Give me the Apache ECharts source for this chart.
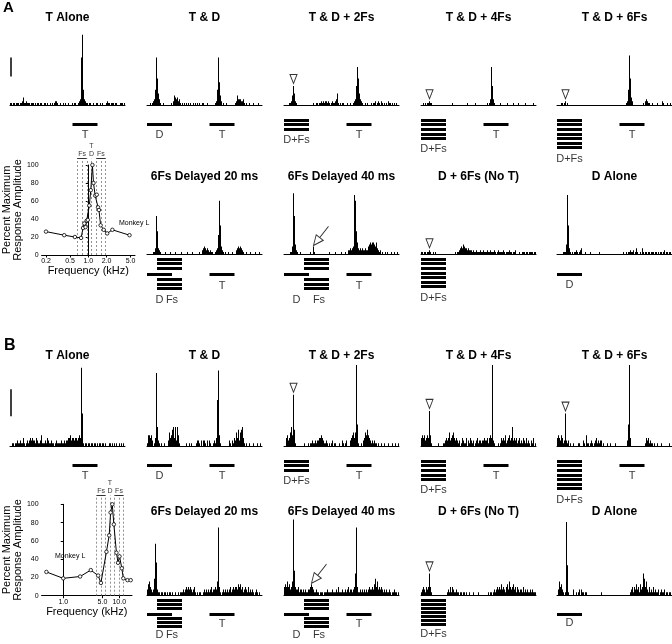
<!DOCTYPE html>
<html><head><meta charset="utf-8">
<script src="https://cdn.jsdelivr.net/npm/echarts@6/dist/echarts.min.js"></script>
<style>html,body{margin:0;padding:0;background:#fff}#c{width:672px;height:644px}</style>
</head><body><div id="c"></div>
<script>
// ---------------- DATA ----------------
// PSTH spike counts, 2-ms bins (115 bins = 230 ms), panel A (scale bar = 10 counts)
const hA_TAlone = [1,1,0,1,1,0,1,1,1,0, 1,1,2,4,1,1,2,1,1,1, 0,1,1,1,0,1,0,1,1,0, 1,1,0,0,1,1,0,1,0,0, 1,0,1,0,1,2,2,1,0,0, 1,0,0,1,0,1,0,0,1,0, 0,0,1,0,1,1,0,0,1,2, 3,25,37,8,3,2,1,1,0,1, 1,0,0,1,0,0,1,1,0,0, 1,0,1,0,0,0,1,2,1,1, 0,1,1,1,0,1,1,0,0,0, 1,1,1,0,1];
const hA_TD = [0,0,0,1,0,1,2,3,8,25, 14,6,3,1,0,0,1,0,0,0, 0,0,0,0,1,0,2,5,4,3, 4,2,3,1,0,1,0,1,0,1, 0,1,0,1,0,0,1,0,1,0, 1,0,1,0,0,1,1,0,0,0, 1,0,0,0,0,0,0,0,1,2, 8,25,12,5,2,0,1,0,0,1, 0,0,0,0,0,0,0,0,1,2, 5,3,3,3,2,2,3,1,0,1, 0,0,1,0,0,0,1,0,0,0, 0,1,0,0,0];
const hA_TD2Fs = [0,0,0,0,0,1,1,2,5,10, 6,2,1,0,0,0,0,0,0,0, 0,0,0,0,0,0,0,0,0,1, 0,0,1,1,0,1,1,2,1,2, 1,2,2,1,2,1,0,1,2,1, 1,2,3,6,1,0,1,0,1,1, 0,0,0,1,0,0,1,0,0,1, 2,3,10,20,14,6,3,2,1,0, 0,1,0,1,0,0,0,1,0,1, 1,2,0,1,2,1,0,2,1,0, 1,0,1,0,2,1,1,0,1,0, 1,0,1,0,0];
const hA_TD4Fs = [0,0,1,0,1,0,1,1,2,1, 1,0,0,0,0,0,0,0,0,0, 0,0,0,0,0,0,0,0,0,0, 0,1,0,0,0,0,0,0,0,0, 0,0,0,0,0,0,1,0,0,0, 0,0,0,0,1,0,0,0,0,0, 0,0,0,0,0,0,1,0,1,3, 20,10,3,1,0,0,0,0,0,1, 0,0,0,0,0,0,1,0,0,0, 0,0,1,0,0,0,0,1,0,0, 0,0,0,0,1,0,0,0,0,0, 0,0,1,0,0];
const hA_TD6Fs = [0,0,0,0,1,1,0,1,2,0, 1,0,0,0,0,0,0,0,0,0, 0,0,0,0,0,0,0,0,0,0, 0,0,0,0,0,0,0,0,0,0, 0,0,0,0,0,0,0,0,0,0, 0,0,0,0,0,0,0,0,0,0, 0,0,0,0,0,0,0,0,0,1, 2,8,26,14,4,2,0,0,0,0, 0,0,0,0,0,0,1,0,2,3, 2,1,1,0,0,1,0,0,0,0, 1,0,0,0,0,2,1,0,0,0, 1,0,0,1,0];
const hA_Del20 = [0,0,0,0,0,0,1,1,3,20, 12,3,2,1,0,0,0,0,1,0, 0,0,0,1,0,0,0,0,1,0, 0,0,0,0,1,0,0,0,0,0, 1,0,0,0,0,1,0,0,0,0, 0,0,1,0,0,2,3,4,3,2, 3,2,1,2,1,1,0,0,1,2, 3,10,28,15,4,2,1,0,1,0, 0,1,0,0,0,1,0,0,0,2, 3,4,3,4,3,2,1,0,0,1, 0,0,0,1,0,0,0,0,1,0, 0,0,1,0,0];
const hA_Del40 = [0,0,0,0,0,0,1,1,4,32, 20,5,2,1,0,0,1,0,0,0, 0,0,0,0,0,0,1,0,0,4, 1,0,0,0,0,0,0,0,0,0, 0,0,0,0,0,1,0,0,0,0, 0,1,0,0,0,0,0,1,0,0, 0,1,0,0,2,2,3,2,3,4, 31,28,12,6,3,2,3,2,3,2, 2,3,2,2,4,5,6,5,6,6, 5,4,6,3,2,1,2,0,1,0, 0,1,0,1,0,0,0,1,0,0, 1,0,0,1,0];
const hA_D6FsNoT = [1,1,0,1,1,0,1,1,2,1, 0,0,1,0,1,0,0,0,0,0, 0,0,0,0,0,0,0,0,0,0, 0,0,0,0,1,0,1,1,2,3, 4,3,5,4,3,3,2,3,2,2, 2,1,2,1,1,2,1,1,1,2, 1,1,2,1,1,1,2,1,1,2, 1,1,1,2,1,0,1,2,1,1, 1,1,2,1,0,1,1,1,2,1, 1,0,1,1,2,0,0,0,1,0, 0,1,1,1,0,1,1,0,1,1, 1,1,0,1,1];
const hA_DAlone = [0,0,0,0,0,0,1,1,1,5, 31,15,3,1,0,1,0,1,1,2, 1,0,1,2,3,0,0,0,1,0, 0,0,0,1,0,0,0,0,0,0, 0,0,1,0,0,0,0,0,0,0, 0,0,0,0,0,0,0,0,0,0, 0,0,0,0,0,0,1,0,0,1, 0,1,1,2,1,1,2,0,1,3, 1,0,0,1,0,3,1,0,1,1, 0,1,1,0,1,1,1,0,1,1, 0,1,0,1,1,0,1,2,0,1, 1,0,1,1,0];
// panel B (scale bar = 10 counts)
const hB_TAlone = [0,0,1,1,0,1,1,2,1,1, 2,1,1,3,1,0,1,2,1,2, 3,2,3,2,2,1,3,2,1,1, 2,4,1,1,1,2,1,3,2,1, 1,2,1,1,0,1,2,1,1,1, 1,2,1,1,2,1,2,2,3,3, 4,2,3,3,2,3,3,2,3,4, 3,29,12,1,0,1,1,0,1,1, 0,1,1,0,1,1,0,1,0,1, 1,0,1,1,0,1,0,0,0,1, 1,0,1,0,1,0,1,0,0,1, 0,1,0,1,0];
const hB_TD = [1,4,4,3,4,2,0,1,3,27, 7,2,1,0,1,0,0,1,0,0, 0,2,5,3,4,6,7,3,7,2, 7,4,1,0,0,0,0,0,0,1, 0,0,1,0,1,0,0,0,0,1, 2,2,1,0,2,0,2,2,1,0, 2,0,2,1,0,0,1,2,1,3, 17,28,4,1,0,0,0,0,0,0, 0,0,2,1,0,2,1,3,2,5, 3,6,2,5,6,7,3,1,0,1, 0,0,1,0,0,0,1,0,0,0, 1,0,0,1,0];
const hB_TD2Fs = [0,0,3,4,2,3,5,7,4,19, 6,1,0,0,0,0,0,0,0,0, 1,0,0,0,1,0,1,1,2,1, 1,2,1,2,2,3,3,4,3,2, 1,1,2,1,0,1,0,1,2,0, 1,1,0,0,0,1,0,0,2,1, 0,1,2,0,0,0,2,3,4,5, 3,5,30,8,1,0,0,1,0,2, 3,5,4,6,4,3,2,1,2,1, 2,1,1,0,1,0,0,1,0,0, 1,0,0,0,1,0,0,0,1,0, 0,1,0,0,1];
const hB_TD4Fs = [3,4,3,4,2,3,4,3,13,4, 1,0,0,0,0,0,0,1,0,0, 0,0,1,1,2,3,2,3,5,2, 3,4,5,3,2,3,2,1,2,0, 1,3,2,1,1,3,0,2,1,3, 2,1,2,0,1,2,3,1,2,2, 1,2,2,3,2,2,3,1,3,4, 3,30,2,1,0,0,0,1,0,1, 3,2,3,2,4,1,2,3,4,2, 3,7,2,3,2,3,1,2,3,1, 2,1,3,2,1,3,1,2,1,0, 2,1,3,0,1];
const hB_TD6Fs = [3,4,3,2,4,3,1,2,12,2, 1,2,0,1,0,0,1,0,0,0, 0,1,1,0,0,0,2,1,0,4, 1,1,0,1,2,1,0,1,2,3, 1,2,1,2,2,0,1,0,0,0, 1,0,0,1,0,0,0,0,1,0, 0,0,0,0,0,0,0,0,0,0, 2,8,30,3,0,0,0,0,0,0, 0,0,0,0,0,0,0,0,1,3, 2,3,1,2,1,1,0,1,0,0, 1,0,0,0,1,0,0,0,0,0, 0,0,1,0,0];
const hB_Del20 = [2,4,5,3,2,1,2,6,19,12, 2,1,1,0,1,1,0,1,1,0, 1,0,1,1,0,1,0,0,1,0, 0,1,0,1,1,1,2,1,2,3, 2,3,2,3,2,1,2,3,1,0, 1,0,1,1,0,0,1,2,1,2, 1,2,1,2,3,1,2,2,3,2, 5,25,3,1,0,1,2,1,2,1, 2,1,2,3,1,2,3,2,3,3, 2,4,3,4,2,3,1,2,3,2, 1,3,1,2,1,2,1,0,1,2, 1,0,1,0,0];
const hB_Del40 = [3,4,3,5,3,4,2,3,5,28, 9,3,2,2,3,1,2,2,1,2, 1,2,1,1,2,2,3,4,3,2, 1,1,2,1,1,0,1,1,1,0, 1,1,1,2,1,1,1,1,2,1, 1,1,2,1,3,1,1,1,2,1, 1,2,1,2,3,1,2,2,1,2, 3,8,25,3,1,1,2,1,2,1, 2,1,2,1,2,3,2,2,3,2, 4,6,3,5,2,3,2,3,2,1, 2,1,2,1,1,2,1,0,1,1, 2,1,1,0,1];
const hB_D6FsNoT = [1,2,3,2,1,3,2,3,8,3, 1,0,0,0,0,0,0,0,0,0, 0,0,0,0,0,0,1,2,1,3, 1,3,2,1,1,2,1,1,0,1, 1,0,1,1,0,1,0,0,1,0, 0,0,1,0,0,0,0,1,0,0, 0,0,0,0,0,0,0,1,0,1, 1,0,1,2,1,2,3,2,3,2, 4,2,3,2,1,3,4,2,5,3, 2,3,4,2,3,1,3,2,1,2, 2,1,3,1,2,1,2,1,1,2, 1,2,1,1,1];
const hB_DAlone = [0,2,5,3,4,2,1,0,1,27, 11,1,0,0,0,0,2,0,0,1, 0,1,2,0,2,1,1,0,1,1, 0,0,0,0,0,0,0,0,0,0, 0,0,0,0,1,0,0,0,0,0, 0,0,0,0,0,0,0,0,0,0, 0,0,0,0,0,0,0,0,0,0, 0,0,0,1,2,3,1,3,2,4, 2,3,1,4,2,3,8,6,3,5, 2,1,3,1,2,1,3,1,2,1, 1,2,0,1,2,1,1,2,0,1, 1,0,1,1,0];

// Panel titles
const titlesRow1 = ['T Alone', 'T & D', 'T & D + 2Fs', 'T & D + 4Fs', 'T & D + 6Fs'];
const titlesRow2 = ['6Fs Delayed 20 ms', '6Fs Delayed 40 ms', 'D + 6Fs (No T)', 'D Alone'];
// Stimulus timing (ms)
const stimD = [0, 50];
const stimT = [125, 175];
const stimDur = 50;
const fsDelays = [20, 40];
const fsCounts = [0, 2, 4, 6];
const scaleBarCounts = 10;

// Frequency tuning curves (kHz, % max response)
const tuneA_freq = [0.2, 0.4, 0.6, 0.76, 0.82, 0.86, 0.9, 0.94, 0.98, 1.04, 1.1, 1.17, 1.22, 1.3, 1.38, 1.45, 1.5, 1.6, 1.8, 2.05, 2.5, 4.8];
const tuneA_amp  = [26, 22, 20, 19, 30, 35, 31, 38, 39, 55, 72, 100, 80, 66, 67, 53, 50, 33, 28, 24, 28, 22];
const tuneA_lines = [0.71, 0.85, 1.01, 1.2, 1.43, 1.7, 2.02];
const tuneA_ticks = [0.2, 0.5, 1.0, 2.0, 5.0];
const tuneB_freq = [0.5, 1.0, 2.0, 3.1, 4.2, 4.7, 5.9, 6.6, 7.0, 7.5, 8.0, 8.9, 9.5, 10.1, 11.1, 11.8, 14.0, 16.0];
const tuneB_amp  = [26, 19, 21, 28, 22, 14, 48, 66, 91, 100, 78, 47, 36, 43, 30, 19, 17, 17];
const tuneB_lines = [4.28, 5.09, 6.05, 7.2, 8.56, 10.2, 12.1];
const tuneB_ticks = [1.0, 5.0, 10.0];

// ---------------- LAYOUT / BUILD ----------------
const FONT = '"Liberation Sans", Arial, Helvetica, sans-serif';
const NB = 115, BIN_MS = 2, W = 115, ROWPX = 4.6;
const colX = [10, 147, 284, 421, 557];
const rowsCfg = {
  A1: {base: 105, H: 80, unit: 1.9, stimTop: 120, titleY: 18},
  A2: {base: 254, H: 80, unit: 1.9, stimTop: 259, titleY: 177},
  B1: {base: 446, H: 92, unit: 2.7, stimTop: 461, titleY: 356},
  B2: {base: 595, H: 92, unit: 2.7, stimTop: 601, titleY: 512}
};
const bins = Array.from({length: NB}, (_, i) => i);

const P = (row, col, title, data, stim, extra) => Object.assign({row, col, title, data, stim}, extra || {});
const panels = [
  P('A1', 0, titlesRow1[0], hA_TAlone, {kind: 'sim', t: 1, d: 0, nFs: fsCounts[0]}, {scaleBar: 15}),
  P('A1', 1, titlesRow1[1], hA_TD,     {kind: 'sim', t: 1, d: 1, nFs: fsCounts[0]}),
  P('A1', 2, titlesRow1[2], hA_TD2Fs,  {kind: 'sim', t: 1, d: 1, nFs: fsCounts[1]}, {tri: true}),
  P('A1', 3, titlesRow1[3], hA_TD4Fs,  {kind: 'sim', t: 1, d: 1, nFs: fsCounts[2]}, {tri: true}),
  P('A1', 4, titlesRow1[4], hA_TD6Fs,  {kind: 'sim', t: 1, d: 1, nFs: fsCounts[3]}, {tri: true}),
  P('A2', 1, titlesRow2[0], hA_Del20,  {kind: 'delayed', delay: fsDelays[0]}),
  P('A2', 2, titlesRow2[1], hA_Del40,  {kind: 'delayed', delay: fsDelays[1]}, {arrow: true}),
  P('A2', 3, titlesRow2[2], hA_D6FsNoT,{kind: 'noT', nFs: fsCounts[3]}, {tri: true}),
  P('A2', 4, titlesRow2[3], hA_DAlone, {kind: 'dAlone'}),
  P('B1', 0, titlesRow1[0], hB_TAlone, {kind: 'sim', t: 1, d: 0, nFs: fsCounts[0]}, {scaleBar: 11}),
  P('B1', 1, titlesRow1[1], hB_TD,     {kind: 'sim', t: 1, d: 1, nFs: fsCounts[0]}),
  P('B1', 2, titlesRow1[2], hB_TD2Fs,  {kind: 'sim', t: 1, d: 1, nFs: fsCounts[1]}, {tri: true}),
  P('B1', 3, titlesRow1[3], hB_TD4Fs,  {kind: 'sim', t: 1, d: 1, nFs: fsCounts[2]}, {tri: true}),
  P('B1', 4, titlesRow1[4], hB_TD6Fs,  {kind: 'sim', t: 1, d: 1, nFs: fsCounts[3]}, {tri: true}),
  P('B2', 1, titlesRow2[0], hB_Del20,  {kind: 'delayed', delay: fsDelays[0]}),
  P('B2', 2, titlesRow2[1], hB_Del40,  {kind: 'delayed', delay: fsDelays[1]}, {arrow: true}),
  P('B2', 3, titlesRow2[2], hB_D6FsNoT,{kind: 'noT', nFs: fsCounts[3]}, {tri: true}),
  P('B2', 4, titlesRow2[3], hB_DAlone, {kind: 'dAlone'})
];

const grid = [], xAxis = [], yAxis = [], series = [], graphic = [];
const mid = r => (r[0] + r[1]) / 2;

function stimLayout(s) {
  const segs = [], labs = [];
  if (s.kind === 'sim') {
    if (s.d) {
      if (s.nFs > 0) {
        for (let r = 0; r <= s.nFs; r++) segs.push([stimD[0], stimD[1], r]);
        labs.push([mid(stimD), s.nFs + 2.4, 'D+Fs']);
      } else { segs.push([stimD[0], stimD[1], 1]); labs.push([mid(stimD), 3.3, 'D']); }
    }
    if (s.t) { segs.push([stimT[0], stimT[1], 1]); labs.push([mid(stimT), 3.3, 'T']); }
  } else if (s.kind === 'delayed') {
    const fs = [s.delay, s.delay + stimDur];
    [0, 1, 2, 4.4, 5.4, 6.4].forEach(r => segs.push([fs[0], fs[1], r]));
    segs.push([stimD[0], stimD[1], 3.4]);
    segs.push([stimT[0], stimT[1], 3.4]);
    labs.push([mid(stimD), 8.8, 'D']);
    labs.push([mid(fs) + 5, 8.8, 'Fs']);
    labs.push([mid(stimT), 5.9, 'T']);
  } else if (s.kind === 'noT') {
    for (let r = 0; r <= s.nFs; r++) segs.push([stimD[0], stimD[1], r]);
    labs.push([mid(stimD), s.nFs + 2.5, 'D+Fs']);
  } else if (s.kind === 'dAlone') {
    segs.push([stimD[0], stimD[1], 3.4]);
    labs.push([mid(stimD), 5.7, 'D']);
  }
  return {segs, labs};
}

const triPath = 'path://M0,0 L10,0 L5,12 Z';
const arrowPath = 'path://M0,19 L9.7,13.95 L2.7,8.35 Z M6.2,11.15 L15,0';

panels.forEach(p => {
  const rc = rowsCfg[p.row];
  const left = colX[p.col];
  const gi = grid.length;
  grid.push({left: left, top: rc.base - rc.H, width: W, height: rc.H});
  xAxis.push({type: 'category', gridIndex: gi, data: bins, boundaryGap: true,
    axisLine: {show: true, lineStyle: {color: '#000', width: 1}}, axisTick: {show: false},
    axisLabel: {show: false}, splitLine: {show: false}});
  yAxis.push({type: 'value', gridIndex: gi, min: 0, max: rc.H / rc.unit, show: false});
  series.push({type: 'bar', xAxisIndex: gi, yAxisIndex: gi, data: p.data, barCategoryGap: '0%', barGap: '0%',
    itemStyle: {color: '#000'}, silent: true});
  if (p.scaleBar !== undefined) {
    series.push({type: 'lines', coordinateSystem: 'cartesian2d', xAxisIndex: gi, yAxisIndex: gi,
      data: [{coords: [[0, p.scaleBar], [0, p.scaleBar + scaleBarCounts]]}],
      lineStyle: {color: '#000', width: 1.5, opacity: 1}, silent: true});
  }
  if (p.tri) {
    let bi = 0; for (let i = 0; i < 20; i++) if (p.data[i] > p.data[bi]) bi = i;
    series.push({type: 'scatter', xAxisIndex: gi, yAxisIndex: gi, data: [[bi, p.data[bi]]],
      symbol: triPath, symbolSize: [7, 9], symbolOffset: [0, -7],
      itemStyle: {color: '#fff', borderColor: '#000', borderWidth: 1}, silent: true, z: 5});
  }
  if (p.arrow) {
    let bi = 20; for (let i = 20; i < 40; i++) if (p.data[i] > p.data[bi]) bi = i;
    series.push({type: 'scatter', xAxisIndex: gi, yAxisIndex: gi, data: [[bi, p.data[bi]]],
      symbol: arrowPath, symbolSize: [15, 19], symbolOffset: [7.5, -10.5],
      itemStyle: {color: '#fff', borderColor: '#000', borderWidth: 1}, silent: true, z: 5});
  }
  const si = grid.length;
  grid.push({left: left, top: rc.stimTop - ROWPX, width: W, height: 12 * ROWPX});
  xAxis.push({type: 'value', gridIndex: si, min: 0, max: NB * BIN_MS, show: false});
  yAxis.push({type: 'value', gridIndex: si, min: -1, max: 11, inverse: true, show: false});
  const L = stimLayout(p.stim);
  series.push({type: 'lines', coordinateSystem: 'cartesian2d', xAxisIndex: si, yAxisIndex: si,
    data: L.segs.map(s => ({coords: [[s[0], s[2]], [s[1], s[2]]]})),
    lineStyle: {color: '#000', width: 3, opacity: 1}, silent: true});
  series.push({type: 'scatter', xAxisIndex: si, yAxisIndex: si, symbolSize: 1,
    itemStyle: {color: 'rgba(0,0,0,0)'},
    data: L.labs.map(l => ({value: [l[0], l[1]], name: l[2]})),
    label: {show: true, position: 'inside', formatter: '{b}', color: '#000', fontSize: 11, fontFamily: FONT},
    silent: true});
  graphic.push({type: 'text', x: left + W / 2, y: rc.titleY,
    style: {text: p.title, font: 'bold 12px ' + FONT, fill: '#000', textAlign: 'center', textVerticalAlign: 'middle'}});
});

// Tuning curves (x = log10 frequency on a linear value axis)
const lg = v => Math.log10(v);
function addTuning(cfg) {
  const gi = grid.length;
  grid.push({left: cfg.left, top: cfg.y100, width: cfg.width, height: cfg.y0 - cfg.y100});
  xAxis.push({type: 'value', gridIndex: gi, min: cfg.xmin, max: cfg.xmax,
    axisLine: {show: true, onZero: false, lineStyle: {color: '#000', width: 1}},
    axisTick: {show: true, length: 2.5, lineStyle: {color: '#000'}, customValues: cfg.ticks.map(lg)},
    axisLabel: {show: true, fontSize: 7, fontFamily: FONT, color: '#000', margin: 3,
      customValues: cfg.ticks.map(lg), formatter: v => Math.pow(10, v).toFixed(1)},
    splitLine: {show: false},
    name: 'Frequency (kHz)', nameLocation: 'middle', nameGap: 9,
    nameTextStyle: {fontSize: 11, fontFamily: FONT, color: '#000', verticalAlign: 'top'}});
  yAxis.push({type: 'value', gridIndex: gi, min: 0, max: 100, interval: 20,
    axisLine: {show: true, lineStyle: {color: '#000', width: 1}},
    axisTick: {show: true, length: 2.5, lineStyle: {color: '#000'}},
    axisLabel: {fontSize: 7, fontFamily: FONT, color: '#000', margin: 3},
    splitLine: {show: false},
    name: 'Percent Maximum\nResponse Amplitude', nameLocation: 'middle', nameRotate: 90, nameGap: 15,
    nameTextStyle: {fontSize: 11, lineHeight: 11, fontFamily: FONT, color: '#000'}});
  series.push({type: 'line', xAxisIndex: gi, yAxisIndex: gi,
    data: cfg.freq.map((f, i) => [lg(f), cfg.amp[i]]),
    symbol: 'circle', symbolSize: 3.5, showSymbol: true,
    lineStyle: {color: '#000', width: 1}, itemStyle: {color: '#fff', borderColor: '#000', borderWidth: 0.8},
    silent: true, z: 4});
  const oi = grid.length;
  const ppu = (cfg.y0 - cfg.y100) / 100;
  const oTop = cfg.y100 - 28;
  grid.push({left: cfg.left, top: oTop, width: cfg.width, height: cfg.y0 - oTop});
  xAxis.push({type: 'value', gridIndex: oi, min: cfg.xmin, max: cfg.xmax, show: false});
  yAxis.push({type: 'value', gridIndex: oi, min: 0, max: (cfg.y0 - oTop) / ppu, show: false});
  const topV = cfg.lineTop;
  series.push({type: 'lines', coordinateSystem: 'cartesian2d', xAxisIndex: oi, yAxisIndex: oi,
    data: cfg.lines.map(f => ({coords: [[lg(f), 0], [lg(f), topV]]})),
    lineStyle: {color: '#777', width: 0.8, type: [2, 2], opacity: 1}, silent: true, z: 1});
  const L = cfg.lines;
  series.push({type: 'lines', coordinateSystem: 'cartesian2d', xAxisIndex: oi, yAxisIndex: oi,
    data: [{coords: [[lg(L[0]), topV], [lg(L[2]), topV]]}, {coords: [[lg(L[4]), topV], [lg(L[6]), topV]]}],
    lineStyle: {color: '#000', width: 0.8, opacity: 1}, silent: true});
  const labY = topV + 4.5 / ppu;
  series.push({type: 'scatter', xAxisIndex: oi, yAxisIndex: oi, symbolSize: 1, itemStyle: {color: 'rgba(0,0,0,0)'},
    data: [
      {value: [lg(L[1]), labY], name: 'Fs'},
      {value: [lg(L[3]), labY], name: 'D'},
      {value: [lg(L[3]), labY + 8 / ppu], name: 'T'},
      {value: [lg(L[5]), labY], name: 'Fs'}
    ],
    label: {show: true, position: 'inside', formatter: '{b}', color: '#000', fontSize: 7, fontFamily: FONT},
    silent: true});
  graphic.push({type: 'text', x: cfg.monkey[0], y: cfg.monkey[1],
    style: {text: 'Monkey L', font: '7px ' + FONT, fill: '#000', textVerticalAlign: 'middle'}});
}
addTuning({left: 38, width: 97, y100: 165, y0: 255, xmin: -0.772, xmax: 0.772,
  freq: tuneA_freq, amp: tuneA_amp, lines: tuneA_lines, ticks: tuneA_ticks, lineTop: 107, monkey: [119, 223]});
addTuning({left: 36, width: 96, y100: 504.3, y0: 595.7, xmin: -0.387, xmax: 1.227,
  freq: tuneB_freq, amp: tuneB_amp, lines: tuneB_lines, ticks: tuneB_ticks, lineTop: 110, monkey: [55, 556]});

graphic.push({type: 'text', x: 3, y: 8, style: {text: 'A', font: 'bold 15px ' + FONT, fill: '#000', textVerticalAlign: 'middle'}});
graphic.push({type: 'text', x: 4, y: 346, style: {text: 'B', font: 'bold 16px ' + FONT, fill: '#000', textVerticalAlign: 'middle'}});

const chart = echarts.init(document.getElementById('c'), null, {renderer: 'canvas', width: 672, height: 644});
chart.setOption({animation: false, backgroundColor: '#fff', grid, xAxis, yAxis, series, graphic});
</script></body></html>
